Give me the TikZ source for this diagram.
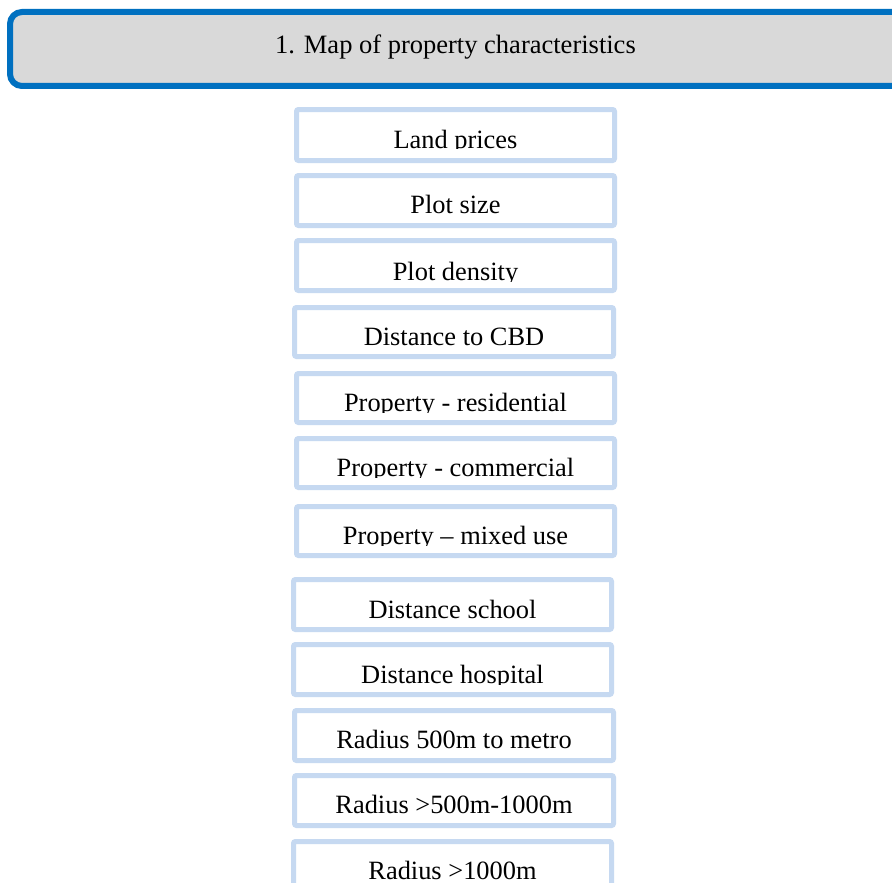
\documentclass[tikz,border=0pt]{standalone}
\usepackage{fontspec}
\setmainfont{Liberation Serif}
\definecolor{hdrblue}{RGB}{0,112,192}
\definecolor{hdrgray}{RGB}{217,217,217}
\definecolor{boxblue}{RGB}{198,217,241}
\tikzset{
  boxst/.style={draw=boxblue, line width=5pt, fill=white, rounded corners=2pt},
  hdrst/.style={draw=hdrblue, line width=6pt, fill=hdrgray, rounded corners=12pt},
  txt/.style={inner sep=0pt, font=\fontsize{26.4}{30}\selectfont, text=black, anchor=base}
}
\newcommand\pbox[8]{%
  \draw[boxst] (#2+2.5,#3+2.5) rectangle (#4-2.5,#5-2.5);
  \begin{scope}
    \clip (#2,#3) rectangle (#4,#7);
    \node[txt] (#1) at ({(#2+#4)/2},#6) {#8};
  \end{scope}}
\begin{document}
\begin{tikzpicture}[x=1pt,y=-1pt]
\useasboundingbox (0,0) rectangle (892,883);
\clip (0,0) rectangle (892,883);
\fill[white] (0,0) rectangle (892,883);
\draw[hdrst] (10,12) rectangle (910,86);
\node[txt, font=\fontsize{26.5}{30}\selectfont] (title) at (455.5,53.5) {1. Map of property characteristics};
\pbox{lp}{294}{107}{617}{163}{148}{148.5}{Land prices}
\pbox{ps}{294}{173}{617}{228}{213}{228}{Plot size}
\pbox{pd}{294}{238}{617}{293}{280}{281}{Plot density}
\pbox{cbd}{292}{305}{616}{359}{345}{359}{Distance to CBD}
\pbox{pr}{294}{371}{617}{425}{411}{412}{Property - residential}
\pbox{pc}{294}{436}{617}{490}{476}{477}{Property - commercial}
\pbox{pm}{294}{504}{617}{558}{544}{545}{Property -- mixed use}
\pbox{ds}{291}{577}{614}{632}{618}{632}{Distance school}
\pbox{dh}{291}{642}{614}{697}{683}{684}{Distance hospital}
\pbox{r5}{292}{708}{616}{763}{748}{763}{Radius 500m to metro}
\pbox{r10}{292}{773}{616}{828}{813}{828}{Radius >500m-1000m}
\pbox{r1k}{291}{839}{614}{900}{879}{900}{Radius >1000m}
\end{tikzpicture}
\end{document}
